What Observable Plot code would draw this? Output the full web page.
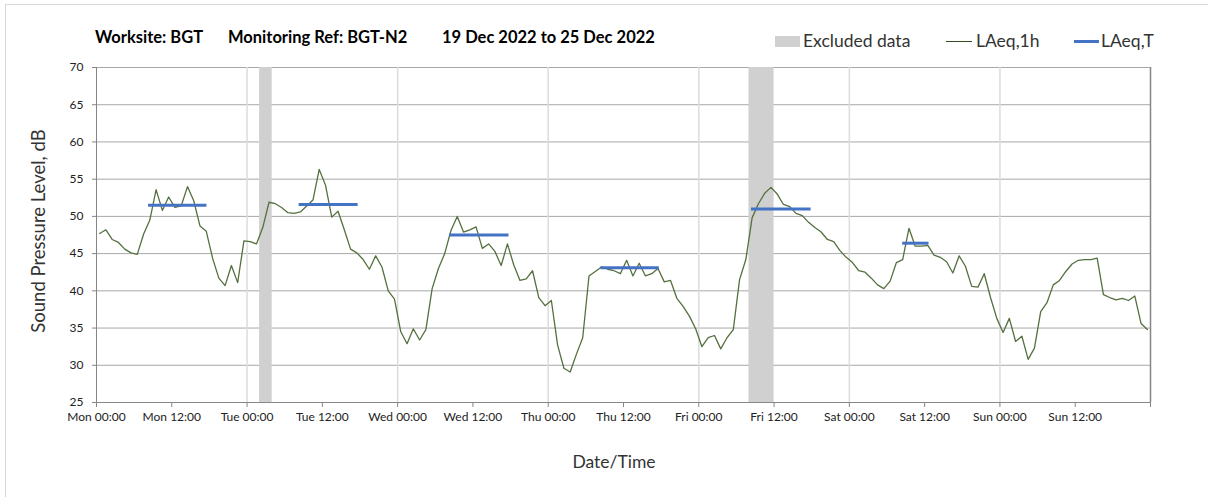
<!DOCTYPE html>
<html><head><meta charset="utf-8">
<script src="https://cdn.jsdelivr.net/npm/d3@7"></script>
<script src="https://cdn.jsdelivr.net/npm/@observablehq/plot@0.6"></script>
<style>
body{margin:0;background:#fff;font-family:Lato,"Open Sans",sans-serif;}
#wrap{position:relative;width:1208px;height:497px;overflow:hidden;background:#fff;}
#frame{position:absolute;left:5px;top:4px;width:1300px;height:700px;border:1px solid #d9d9d9;}
#plot{position:absolute;left:0;top:0;}
.title{position:absolute;top:27px;font-weight:bold;font-size:16.5px;color:#000;white-space:pre;}
.leg{position:absolute;top:30px;font-size:17.5px;color:#333;white-space:pre;}
.sw{position:absolute;}
#ylab{position:absolute;left:38px;top:231px;transform:translate(-50%,-50%) rotate(-90deg);font-size:18.5px;color:#333;white-space:pre;}
#xlab{position:absolute;left:614px;top:451px;transform:translateX(-50%);font-size:17.5px;color:#333;}
</style></head>
<body>
<div id="wrap">
<div id="frame"></div>
<div id="plot"></div>
<div class="title" id="t1" style="left:95px;"></div>
<div class="title" id="t2" style="left:228px;"></div>
<div class="title" id="t3" style="left:442px;"></div>
<div class="sw" style="left:775px;top:36px;width:25px;height:11px;background:#d0d0d0;"></div>
<div class="leg" style="left:803px;" id="l1"></div>
<div class="sw" style="left:946px;top:41px;width:26px;height:1.3px;background:#2f4f1f;"></div>
<div class="leg" style="left:976px;" id="l2"></div>
<div class="sw" style="left:1074px;top:40px;width:25px;height:3px;background:#4472c4;"></div>
<div class="leg" style="left:1101px;" id="l3"></div>
<div id="ylab"></div>
<div id="xlab"></div>
</div>
<script>
// ---- data ----
const titleParts = ["Worksite: BGT", "Monitoring Ref: BGT-N2", "19 Dec 2022 to 25 Dec 2022"];
const legendLabels = ["Excluded data", "LAeq,1h", "LAeq,T"];
const yLabel = "Sound Pressure Level, dB";
const xLabel = "Date/Time";
const startDate = "2022-12-19T00:00:00Z";
const dayNames = ["Mon","Tue","Wed","Thu","Fri","Sat","Sun"];
const yTicks = [25,30,35,40,45,50,55,60,65,70];
// hourly LAeq,1h values (dB), one per hour from Mon 00:00
const laeq1h = [
 47.7,48.2,46.9,46.5,45.6,45.1,44.9,47.6,49.5,53.6,50.8,52.6,51.2,51.4,54.0,52.1,48.7,48.0,44.4,41.7,40.7,43.4,41.1,46.7,
 46.6,46.3,48.5,51.9,51.7,51.2,50.5,50.4,50.6,51.4,52.2,56.3,54.2,49.9,50.7,48.2,45.6,45.1,44.2,42.9,44.7,43.2,40.0,38.9,
 34.5,32.9,34.9,33.4,34.8,40.3,43.0,45.0,48.1,50.0,47.9,48.2,48.6,45.7,46.3,45.3,43.4,46.3,43.5,41.4,41.6,42.7,39.1,38.0,
 38.7,32.7,29.6,29.1,31.5,33.7,42.0,42.6,43.2,42.9,42.7,42.3,44.1,42.0,43.7,42.0,42.3,43.0,41.2,41.4,39.0,37.9,36.6,34.9,
 32.5,33.7,34.0,32.2,33.7,34.8,41.5,44.2,49.8,51.7,53.1,53.9,53.0,51.6,51.3,50.4,50.1,49.2,48.5,47.9,46.9,46.6,45.4,44.5,
 43.8,42.7,42.5,41.7,40.8,40.3,41.3,43.8,44.2,48.4,46.0,46.0,46.1,44.8,44.5,43.9,42.4,44.7,43.3,40.6,40.5,42.3,39.1,36.3,
 34.4,36.3,33.2,33.9,30.8,32.3,37.2,38.4,40.8,41.4,42.6,43.6,44.1,44.2,44.2,44.4,39.5,39.1,38.8,39.0,38.7,39.3,35.6,34.8
];
// LAeq,T periods (hours from Mon 00:00) and levels
const laeqTStart = [8.3, 32.3, 56.3, 80.4, 104.4, 128.5];
const laeqTEnd   = [17.6, 41.7, 65.75, 89.7, 113.9, 132.7];
const laeqTValue = [51.5, 51.6, 47.5, 43.1, 51.0, 46.4];
// excluded data periods (hours from Mon 00:00)
const exclStart = [26, 104];
const exclEnd   = [28, 108];

// ---- build ----
const t0 = new Date(startDate).getTime();
const H = 3600e3;
const toDate = h => new Date(t0 + h*H);
const lineData = laeq1h.map((v,i)=>({t: toDate(i+0.5), v}));
const tData = laeqTValue.map((v,i)=>({x1: toDate(laeqTStart[i]), x2: toDate(laeqTEnd[i]), v}));
const exData = exclStart.map((s,i)=>({x1: toDate(s), x2: toDate(exclEnd[i])}));
const xTicks = d3.range(0, 15).map(k => toDate(k*12));
const dayGrid = d3.range(1, 7).map(k => toDate(k*24));
const fmt = d => {
  const h = (d.getTime()-t0)/H;
  if (h >= 168) return "";
  const day = dayNames[Math.floor(h/24)];
  return day + " " + (h % 24 === 0 ? "00:00" : "12:00");
};
const xDomain = [toDate(0), toDate(168)];

const chart = Plot.plot({
  width: 1208, height: 497,
  marginLeft: 96, marginRight: 58, marginTop: 67, marginBottom: 95,
  style: {fontFamily: "Lato, 'Open Sans', sans-serif", fontSize: "12px", color: "#222", background: "transparent"},
  x: {type: "utc", domain: xDomain, label: null},
  y: {domain: [25, 70], label: null},
  marks: [
    Plot.gridY(yTicks, {stroke: "#a8a8a8", strokeOpacity: 1}),
    Plot.gridX(dayGrid, {stroke: "#dcdcdc", strokeOpacity: 1, strokeWidth: 1.5}),
    Plot.rect(exData, {x1: "x1", x2: "x2", y1: 25, y2: 70, fill: "#d0d0d0"}),
    Plot.ruleX([toDate(0)], {stroke: "#868686"}),
    Plot.ruleX([toDate(168)], {stroke: "#868686", strokeWidth: 1.5}),
    Plot.ruleY([25], {stroke: "#868686"}),
    Plot.axisY({ticks: yTicks, tickSize: 4, tickPadding: 9, stroke: "#868686", label: null}),
    Plot.axisX({ticks: xTicks, tickFormat: fmt, tickSize: 5, tickPadding: 5, stroke: "#868686", label: null}),
    Plot.line(lineData, {x: "t", y: "v", stroke: "#55703f", strokeWidth: 1.3}),
    Plot.ruleY(tData, {x1: "x1", x2: "x2", y: "v", stroke: "#4472c4", strokeWidth: 3})
  ]
});
document.getElementById("plot").appendChild(chart);
document.getElementById("t1").textContent = titleParts[0];
document.getElementById("t2").textContent = titleParts[1];
document.getElementById("t3").textContent = titleParts[2];
document.getElementById("l1").textContent = legendLabels[0];
document.getElementById("l2").textContent = legendLabels[1];
document.getElementById("l3").textContent = legendLabels[2];
document.getElementById("ylab").textContent = yLabel;
document.getElementById("xlab").textContent = xLabel;
</script>
</body></html>
